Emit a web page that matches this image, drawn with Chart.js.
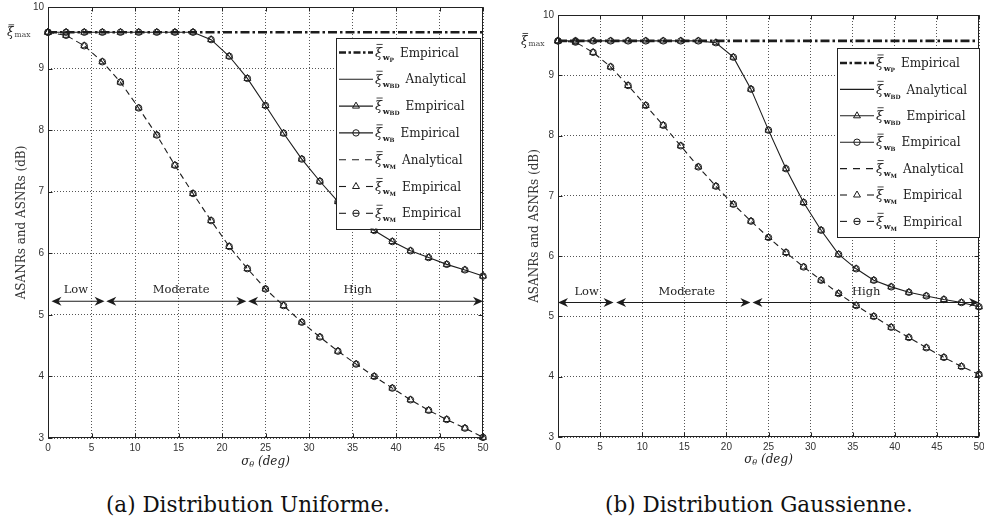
<!DOCTYPE html>
<html>
<head>
<meta charset="utf-8">
<script src="https://cdn.jsdelivr.net/npm/chart.js@4.4.1/dist/chart.umd.min.js"></script>
<style>
  body { margin: 0; background: #fff; width: 984px; height: 523px; position: relative; overflow: hidden; }
  .box { position: absolute; top: 0; height: 470px; }
  #boxA { left: 0; width: 490px; }
  #boxB { left: 490px; width: 494px; }
  .cap { position: absolute; top: 494px; font-family: "DejaVu Serif"; font-size: 21.5px; line-height: 22px; color: #111; text-align: center; white-space: nowrap; }
  #capA { left: 0; width: 496px; }
  #capB { left: 490px; width: 538px; }
</style>
</head>
<body>
<div class="box" id="boxA"><canvas id="chartA"></canvas></div>
<div class="box" id="boxB"><canvas id="chartB"></canvas></div>
<div class="cap" id="capA">(a) Distribution Uniforme.</div>
<div class="cap" id="capB">(b) Distribution Gaussienne.</div>
<script>
// sigma_theta sample points (deg)
const sigmaDeg = [0, 2.08, 4.17, 6.25, 8.33, 10.42, 12.5, 14.58, 16.67, 18.75, 20.83, 22.92, 25,
  27.08, 29.17, 31.25, 33.33, 35.42, 37.5, 39.58, 41.67, 43.75, 45.83, 47.92, 50]
const xTicks = [0, 5, 10, 15, 20, 25, 30, 35, 40, 45, 50]
const yTicks = [3, 4, 5, 6, 7, 8, 9, 10]

// (a) uniform
const xiMaxUniform = 9.59
const bdUniform = [9.59, 9.59, 9.59, 9.59, 9.59, 9.59, 9.59, 9.59, 9.59, 9.47, 9.20, 8.84, 8.40,
  7.95, 7.53, 7.17, 6.84, 6.58, 6.37, 6.19, 6.04, 5.93, 5.82, 5.73, 5.63]
const mUniform = [9.59, 9.54, 9.37, 9.11, 8.78, 8.36, 7.92, 7.43, 6.97, 6.53, 6.11, 5.75, 5.42,
  5.15, 4.88, 4.64, 4.41, 4.20, 4.00, 3.81, 3.62, 3.45, 3.30, 3.16, 3.01]

// (b) gaussian
const xiMaxGauss = 9.57
const bdGauss = [9.57, 9.57, 9.57, 9.57, 9.57, 9.57, 9.57, 9.57, 9.57, 9.54, 9.30, 8.77, 8.09,
  7.45, 6.89, 6.43, 6.03, 5.79, 5.60, 5.49, 5.40, 5.34, 5.28, 5.23, 5.16]
const mGauss = [9.57, 9.55, 9.38, 9.14, 8.83, 8.50, 8.17, 7.83, 7.48, 7.16, 6.86, 6.58, 6.31,
  6.06, 5.82, 5.60, 5.38, 5.18, 5.00, 4.82, 4.65, 4.48, 4.32, 4.17, 4.04]

// Low / Moderate / High ranges
const rangeLabels = ['Low', 'Moderate', 'High']
const rangeFromUniform = [0.4, 6.7, 23.0]
const rangeToUniform = [6.5, 22.8, 50]
const rangeTextUniform = [3.2, 15.3, 35.6]
const rangeYUniform = 5.22
const rangeFromGauss = [0, 6.9, 23.1]
const rangeToGauss = [6.6, 22.85, 50]
const rangeTextGauss = [3.4, 15.3, 36.6]
const rangeYGauss = 5.23

// legend rows
const legendSubs = ['P', 'BD', 'BD', 'B', 'M', 'M', 'M']
const legendNames = ['Empirical', 'Analytical', 'Empirical', 'Empirical', 'Analytical', 'Empirical', 'Empirical']
const legendKinds = ['dashdot', 'solid', 'solidTri', 'solidCirc', 'dash', 'dashTri', 'dashCirc']

const ink = '#1c1c1c'
const serif = '"DejaVu Serif", serif'
const pts = arr => arr.map((v, i) => ({ x: sigmaDeg[i], y: v }))

const marker = (ctx, kind, x, y) => {
  ctx.save()
  ctx.setLineDash([])
  ctx.lineWidth = 1
  ctx.strokeStyle = ink
  ctx.beginPath()
  if (kind === 'tri') {
    const r = 4
    ctx.moveTo(x, y - r)
    ctx.lineTo(x + r * Math.sin(2 * Math.PI / 3), y - r * Math.cos(2 * Math.PI / 3))
    ctx.lineTo(x + r * Math.sin(4 * Math.PI / 3), y - r * Math.cos(4 * Math.PI / 3))
    ctx.closePath()
  } else {
    ctx.arc(x, y, 3.2, 0, Math.PI * 2)
  }
  ctx.stroke()
  ctx.restore()
}

const seg = (ctx, x0, x1, y) => {
  ctx.beginPath()
  ctx.moveTo(x0, y)
  ctx.lineTo(x1, y)
  ctx.stroke()
}

const drawSample = (ctx, kind, x0, x1, y) => {
  ctx.save()
  ctx.strokeStyle = ink
  ctx.lineWidth = 1.1
  const mid = (x0 + x1) / 2
  if (kind === 'dashdot') {
    ctx.lineWidth = 2.6
    ctx.setLineDash([7, 2.5, 2.5, 2.5])
    seg(ctx, x0, x1, y)
  } else if (kind.startsWith('solid')) {
    seg(ctx, x0, x1, y)
  } else if (kind === 'dash') {
    ctx.setLineDash([7, 6])
    seg(ctx, x0, x1, y)
  } else {
    seg(ctx, x0, x0 + 7, y)
    seg(ctx, x1 - 7, x1, y)
  }
  if (kind.endsWith('Tri')) marker(ctx, 'tri', mid, y)
  if (kind.endsWith('Circ')) {
    marker(ctx, 'circ', mid, y)
    if (kind === 'dashCirc') seg(ctx, mid - 3, mid + 3, y)
  }
  ctx.restore()
}

// xi with bar and bold subscript w_X, returns width
const drawXi = (ctx, x, y, sub, size) => {
  ctx.save()
  ctx.fillStyle = ink
  ctx.strokeStyle = ink
  ctx.textBaseline = 'alphabetic'
  ctx.textAlign = 'left'
  ctx.font = `italic ${size}px ${serif}`
  ctx.fillText('ξ', x, y + size * 0.33)
  const w0 = ctx.measureText('ξ').width
  ctx.lineWidth = 0.8
  seg(ctx, x + 1.5, x + w0 + 0.5, y - size * 0.62)
  let w = w0 + 0.5
  if (sub) {
    ctx.font = `bold ${size * 0.62}px ${serif}`
    ctx.fillText('w', x + w, y + size * 0.6)
    w += ctx.measureText('w').width
    ctx.font = `bold ${size * 0.45}px ${serif}`
    ctx.fillText(sub, x + w, y + size * 0.7)
    w += ctx.measureText(sub).width
  }
  ctx.restore()
  return w
}

const arrowHead = (ctx, x, y, dir) => {
  ctx.beginPath()
  ctx.moveTo(x, y)
  ctx.lineTo(x + dir * 10, y - 4.5)
  ctx.lineTo(x + dir * 7, y)
  ctx.lineTo(x + dir * 10, y + 4.5)
  ctx.closePath()
  ctx.fill()
}

const decor = {
  id: 'decor',
  afterDatasetsDraw (chart, args, o) {
    const { ctx, chartArea: a, scales: { x, y } } = chart
    ctx.save()
    ctx.setLineDash([])

    // range arrows
    ctx.strokeStyle = ink
    ctx.fillStyle = ink
    ctx.lineWidth = 1.1
    const ay = y.getPixelForValue(o.rangeY)
    o.from.forEach((f, i) => {
      const xa = x.getPixelForValue(f)
      const xb = x.getPixelForValue(o.to[i])
      seg(ctx, xa + 3, xb - 3, ay)
      arrowHead(ctx, xa, ay, 1)
      arrowHead(ctx, xb, ay, -1)
      ctx.font = `11.5px ${serif}`
      ctx.textAlign = 'center'
      ctx.textBaseline = 'middle'
      ctx.fillText(rangeLabels[i], x.getPixelForValue(o.text[i]), ay - 11)
    })

    // frame + inward ticks
    const L = Math.round(a.left) + 0.5
    const R = Math.round(a.right) - 0.5
    const T = Math.round(a.top) + 0.5
    const B = Math.round(a.bottom) - 0.5
    ctx.strokeStyle = '#222'
    ctx.lineWidth = 1
    ctx.strokeRect(L, T, R - L, B - T)
    ctx.beginPath()
    xTicks.forEach(v => {
      const px = Math.round(x.getPixelForValue(v)) + 0.5
      ctx.moveTo(px, B); ctx.lineTo(px, B - 4)
      ctx.moveTo(px, T); ctx.lineTo(px, T + 4)
    })
    yTicks.forEach(v => {
      const py = Math.round(y.getPixelForValue(v)) + 0.5
      ctx.moveTo(L, py); ctx.lineTo(L + 4, py)
      ctx.moveTo(R, py); ctx.lineTo(R - 4, py)
    })
    ctx.stroke()

    // legend
    const lx = a.right - o.legRight - o.legW
    const ly = a.top + o.legTop
    ctx.fillStyle = '#fff'
    ctx.fillRect(lx, ly, o.legW, o.legH)
    ctx.strokeStyle = '#222'
    ctx.strokeRect(Math.round(lx) + 0.5, Math.round(ly) + 0.5, o.legW, o.legH)
    legendKinds.forEach((k, i) => {
      const ry = ly + 15 + i * o.legRow
      drawSample(ctx, k, lx + 3, lx + 37, ry)
      const w = drawXi(ctx, lx + 39, ry, legendSubs[i], 13)
      ctx.fillStyle = '#222'
      ctx.font = `12px ${serif}`
      ctx.textAlign = 'left'
      ctx.textBaseline = 'middle'
      ctx.fillText(legendNames[i], lx + 39 + w + 6, ry + 1)
    })

    // xi_max label on the y axis
    const my = y.getPixelForValue(o.xiMax)
    const mx = a.left - o.xiMaxOff
    const xw = drawXi(ctx, mx, my, '', 12)
    ctx.fillStyle = '#444'
    ctx.font = `7.5px ${serif}`
    ctx.textAlign = 'left'
    ctx.textBaseline = 'alphabetic'
    ctx.fillText('max', mx + xw + 0.5, my + 5)

    // axis titles
    ctx.fillStyle = '#222'
    const cx = (a.left + a.right) / 2
    const ty = a.bottom + o.xTitleOff
    ctx.textBaseline = 'middle'
    ctx.textAlign = 'left'
    ctx.font = `italic 12px ${serif}`
    const sw = ctx.measureText('σ').width
    ctx.font = `italic 12px ${serif}`
    const dw = ctx.measureText(' (deg)').width
    ctx.font = `italic 8px ${serif}`
    const thw = ctx.measureText('θ').width
    let tx = cx - (sw + thw + dw) / 2
    ctx.font = `italic 12px ${serif}`
    ctx.fillText('σ', tx, ty)
    ctx.font = `italic 8px ${serif}`
    ctx.fillText('θ', tx + sw, ty + 3)
    ctx.font = `italic 12px ${serif}`
    ctx.fillText(' (deg)', tx + sw + thw, ty)

    ctx.save()
    ctx.translate(o.yTitleX, (a.top + a.bottom) / 2)
    ctx.rotate(-Math.PI / 2)
    ctx.textAlign = 'center'
    ctx.font = `12px ${serif}`
    ctx.fillStyle = '#333'
    ctx.fillText('ASANRs and ASNRs (dB)', 0, 0)
    ctx.restore()

    ctx.restore()
  }
}

const panel = (id, o) => {
  const lineBase = { borderColor: ink, backgroundColor: 'transparent', clip: false }
  const markBase = { ...lineBase, showLine: false, pointBorderColor: ink, pointBackgroundColor: 'transparent', pointBorderWidth: 1 }
  const axisTicks = { color: '#333', font: { family: 'Liberation Sans', size: 10 }, padding: 4, maxRotation: 0 }
  new Chart(document.getElementById(id), {
    type: 'line',
    data: {
      datasets: [
        { ...lineBase, data: [{ x: 0, y: o.xiMax }, { x: 50, y: o.xiMax }], borderWidth: 2.6, borderDash: [9, 3, 2.5, 3], pointRadius: 0 },
        { ...lineBase, data: pts(o.bd), borderWidth: 1.1, pointRadius: 0 },
        { ...markBase, data: pts(o.bd), pointStyle: 'triangle', pointRadius: 4 },
        { ...markBase, data: pts(o.bd), pointStyle: 'circle', pointRadius: 3.2 },
        { ...lineBase, data: pts(o.m), borderWidth: 1.1, borderDash: [6, 4], pointRadius: 0 },
        { ...markBase, data: pts(o.m), pointStyle: 'triangle', pointRadius: 4 },
        { ...markBase, data: pts(o.m), pointStyle: 'circle', pointRadius: 3.2 },
      ],
    },
    options: {
      responsive: true,
      maintainAspectRatio: false,
      animation: false,
      layout: { padding: { top: o.padTop, right: o.padRight, left: 0, bottom: 0 } },
      plugins: { legend: { display: false }, tooltip: { enabled: false }, decor: o },
      scales: {
        x: {
          type: 'linear', min: 0, max: 50,
          afterBuildTicks: s => { s.ticks = xTicks.map(v => ({ value: v })) },
          afterFit: s => { s.height = o.xAxisH; s.paddingLeft = 0; s.paddingRight = 0 },
          grid: { color: '#555', drawTicks: false, lineWidth: 1 },
          border: { display: false, dash: [1, 2] },
          ticks: axisTicks,
        },
        y: {
          type: 'linear', min: 3, max: 10,
          afterBuildTicks: s => { s.ticks = yTicks.map(v => ({ value: v })) },
          afterFit: s => { s.width = o.yAxisW; s.paddingTop = 0; s.paddingBottom = 0 },
          grid: { color: '#555', drawTicks: false, lineWidth: 1 },
          border: { display: false, dash: [1, 2] },
          ticks: axisTicks,
        },
      },
    },
    plugins: [decor],
  })
}

panel('chartA', {
  bd: bdUniform, m: mUniform, xiMax: xiMaxUniform,
  rangeY: rangeYUniform, from: rangeFromUniform, to: rangeToUniform, text: rangeTextUniform,
  padTop: 7, padRight: 7, xAxisH: 32, yAxisW: 48,
  legRight: 3, legTop: 30.5, legW: 144, legH: 191, legRow: 26.8,
  xiMaxOff: 41, xTitleOff: 24, yTitleX: 22,
})

panel('chartB', {
  bd: bdGauss, m: mGauss, xiMax: xiMaxGauss,
  rangeY: rangeYGauss, from: rangeFromGauss, to: rangeToGauss, text: rangeTextGauss,
  padTop: 15, padRight: 3, xAxisH: 33, yAxisW: 68,
  legRight: 0, legTop: 33, legW: 142, legH: 189, legRow: 26.4,
  xiMaxOff: 37, xTitleOff: 23, yTitleX: 45,
})
</script>
</body>
</html>
